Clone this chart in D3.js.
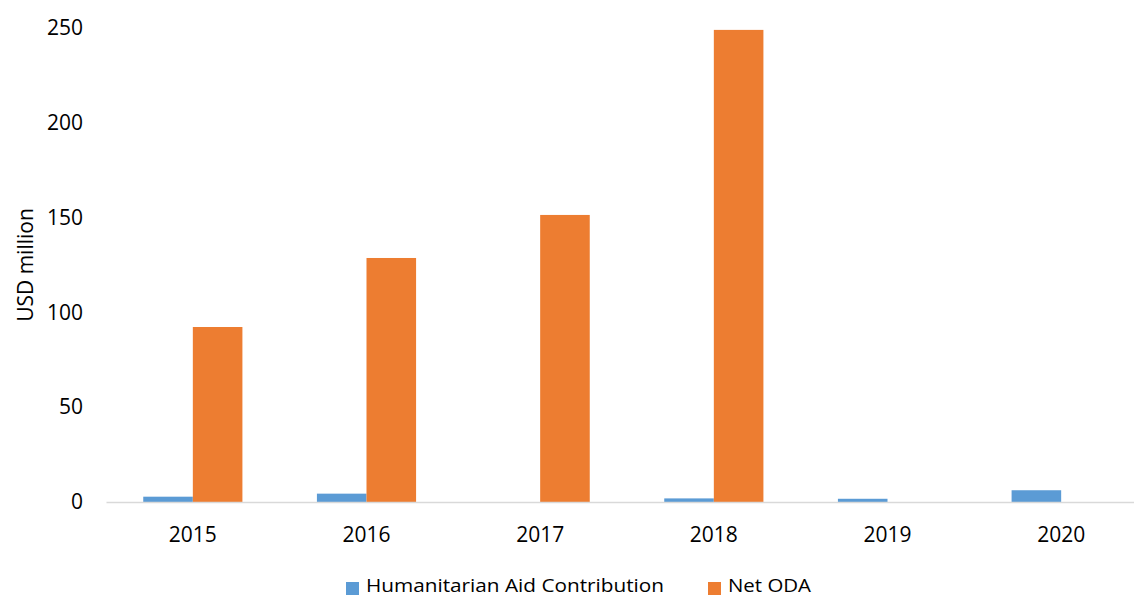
<!DOCTYPE html>
<html>
<head>
<meta charset="utf-8">
<script src="https://cdn.jsdelivr.net/npm/d3@7"></script>
<style>
  body { margin: 0; background: #fff; }
  text { font-family: "Open Sans", "Liberation Sans", sans-serif; fill: #000; }
</style>
</head>
<body>
<div id="chart"></div>
<script>
// data
const years = ["2015", "2016", "2017", "2018", "2019", "2020"];
const seriesNames = ["Humanitarian Aid Contribution", "Net ODA"];
const humanitarian = [2.8, 4.4, 0, 1.9, 1.7, 6.2];
const netODA = [92.3, 128.7, 151.4, 249, 0, 0];
const yTicks = [0, 50, 100, 150, 200, 250];
const colors = ["#5B9BD5", "#ED7D31"];

const rows = years.map((y, i) => ({ year: y, values: [humanitarian[i], netODA[i]] }));

const W = 1134, H = 596;
const margin = { top: 28, right: -14, bottom: 94, left: 106 };
const width = W - margin.left - margin.right;
const height = H - margin.top - margin.bottom;

const svg = d3.select("#chart")
  .append("svg")
  .attr("width", W)
  .attr("height", H);

const g = svg.append("g")
  .attr("transform", `translate(${margin.left},${margin.top})`);

// scales
const x0 = d3.scaleBand()
  .domain(years)
  .range([0, width])
  .padding(0);

const bw = x0.bandwidth();
const x1 = d3.scaleBand()
  .domain(seriesNames)
  .range([bw * 0.2145, bw * 0.7855]);

const y = d3.scaleLinear()
  .domain([0, 250])
  .range([height, 0]);

// y axis (labels only)
const yAxis = g.append("g")
  .call(d3.axisLeft(y).tickValues(yTicks).tickSize(0).tickPadding(23));
yAxis.select(".domain").remove();
yAxis.selectAll("text")
  .style("font-size", "21px");

// bars
g.selectAll("g.year")
  .data(rows)
  .join("g")
  .attr("class", "year")
  .attr("transform", d => `translate(${x0(d.year)},0)`)
  .selectAll("rect")
  .data(d => d.values.map((v, i) => ({ key: seriesNames[i], value: v, i })))
  .join("rect")
  .attr("x", d => x1(d.key))
  .attr("y", d => y(d.value))
  .attr("width", x1.bandwidth())
  .attr("height", d => height - y(d.value))
  .attr("fill", d => colors[d.i]);

// x axis
const xAxis = g.append("g")
  .attr("transform", `translate(0,${height})`)
  .call(d3.axisBottom(x0).tickSize(0).tickPadding(25));
xAxis.select(".domain")
  .attr("stroke", "#d9d9d9")
  .attr("stroke-width", 1.5);
xAxis.selectAll("text")
  .style("font-size", "21px");

// y title
svg.append("text")
  .attr("transform", "translate(33,265) rotate(-90)")
  .attr("text-anchor", "middle")
  .style("font-size", "21px")
  .text("USD million");

// legend
const legendX = [346, 708];
const legendLen = [298, 83];
const legend = svg.append("g");
seriesNames.forEach((name, i) => {
  legend.append("rect")
    .attr("x", legendX[i])
    .attr("y", 582)
    .attr("width", 13)
    .attr("height", 13)
    .attr("fill", colors[i]);
  legend.append("text")
    .attr("x", legendX[i] + 20)
    .attr("y", 592)
    .attr("textLength", legendLen[i])
    .attr("lengthAdjust", "spacingAndGlyphs")
    .style("font-size", "18px")
    .text(name);
});
</script>
</body>
</html>
